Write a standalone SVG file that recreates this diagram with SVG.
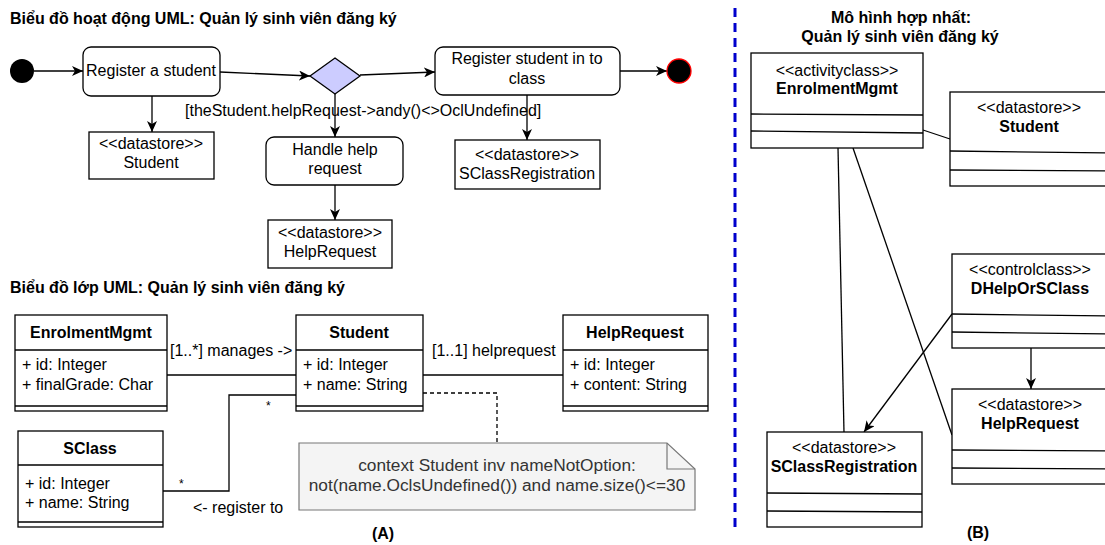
<svg xmlns="http://www.w3.org/2000/svg" width="1105" height="545" viewBox="0 0 1105 545">
  <style>
    text { font-family: "Liberation Sans", Arial, sans-serif; font-size: 16px; fill: #000; }
    .b { font-weight: bold; }
    .c { text-anchor: middle; }
    .box { fill: #fff; stroke: #000; stroke-width: 1.3; }
    .ln { fill: none; stroke: #000; stroke-width: 1.3; }
    .arr { fill: none; stroke: #000; stroke-width: 1.3; marker-end: url(#arrow); }
    .note { fill: #333; font-size: 17.3px; }
  </style>
  <defs>
    <marker id="arrow" markerUnits="userSpaceOnUse" markerWidth="12" markerHeight="10" refX="11" refY="5" orient="auto">
      <path d="M0,0 L11,5 L0,10 L3,5 Z" fill="#000"/>
    </marker>
  </defs>

  <rect width="1105" height="545" fill="#fff"/>

  <!-- Part A: activity diagram -->
  <text class="b" x="10" y="24">Biểu đồ hoạt động UML: Quản lý sinh viên đăng ký</text>

  <g id="connectors-activity">
    <line class="arr" x1="34" y1="71" x2="83" y2="71"/>
    <line class="arr" x1="220" y1="72" x2="310" y2="76"/>
    <line class="arr" x1="360" y1="75" x2="435" y2="72"/>
    <line class="arr" x1="620" y1="71" x2="667" y2="71"/>
    <line class="arr" x1="152" y1="96" x2="152" y2="132"/>
    <line class="arr" x1="335" y1="94" x2="335" y2="137"/>
    <line class="arr" x1="527" y1="95" x2="527" y2="140"/>
    <line class="arr" x1="335" y1="185" x2="335" y2="220"/>
    <text x="185" y="116">[theStudent.helpRequest-&gt;andy()&lt;&gt;OclUndefined]</text>
  </g>

  <g id="start"><circle cx="22" cy="71" r="12" fill="#000"/></g>
  <g id="register-student">
    <rect class="box" x="83" y="47" width="137" height="49" rx="8"/>
    <text class="c" x="151" y="76">Register a student</text>
  </g>
  <g id="decision">
    <polygon points="335,58 360,76 335,94 310,76" fill="#ccccff" stroke="#000" stroke-width="1.3"/>
  </g>
  <g id="register-class">
    <rect class="box" x="435" y="47" width="185" height="48" rx="8"/>
    <text class="c" x="527" y="64">Register student in to</text>
    <text class="c" x="527" y="84">class</text>
  </g>
  <g id="end"><circle cx="679" cy="71" r="12" fill="#000" stroke="#ff0000" stroke-width="1.3"/></g>
  <g id="ds-student">
    <rect class="box" x="89" y="132" width="125" height="47"/>
    <text class="c" x="151" y="149">&lt;&lt;datastore&gt;&gt;</text>
    <text class="c" x="151" y="168">Student</text>
  </g>
  <g id="handle-help">
    <rect class="box" x="266" y="137" width="137" height="48" rx="8"/>
    <text class="c" x="335" y="155">Handle help</text>
    <text class="c" x="335" y="174">request</text>
  </g>
  <g id="ds-sclassregistration">
    <rect class="box" x="455" y="140" width="145" height="49"/>
    <text class="c" x="527" y="160">&lt;&lt;datastore&gt;&gt;</text>
    <text class="c" x="527" y="179">SClassRegistration</text>
  </g>
  <g id="ds-helprequest">
    <rect class="box" x="268" y="220" width="124" height="48"/>
    <text class="c" x="330" y="238">&lt;&lt;datastore&gt;&gt;</text>
    <text class="c" x="330" y="257">HelpRequest</text>
  </g>

  <!-- Part A: class diagram -->
  <text class="b" x="10" y="293">Biểu đồ lớp UML: Quản lý sinh viên đăng ký</text>

  <g id="connectors-class">
    <line class="ln" x1="167" y1="375" x2="296" y2="375"/>
    <text x="170" y="356">[1..*] manages -&gt;</text>
    <line class="ln" x1="423" y1="375" x2="563" y2="375"/>
    <text x="432" y="356">[1..1] helprequest</text>
    <polyline class="ln" points="163,491 229,491 229,395 296,395"/>
    <text x="266" y="410" style="font-size:12px">*</text>
    <text x="179" y="488" style="font-size:12px">*</text>
    <text x="193" y="513">&lt;- register to</text>
    <polyline class="ln" points="423,393 497,393 497,443" stroke-dasharray="4,3"/>
  </g>

  <g id="class-enrolmentmgmt">
    <rect class="box" x="15" y="315" width="152" height="96"/>
    <line class="ln" x1="15" y1="350" x2="167" y2="350"/>
    <line class="ln" x1="15" y1="406" x2="167" y2="406"/>
    <text class="b c" x="91" y="338">EnrolmentMgmt</text>
    <text x="22" y="370">+ id: Integer</text>
    <text x="22" y="390">+ finalGrade: Char</text>
  </g>
  <g id="class-student">
    <rect class="box" x="296" y="315" width="127" height="96"/>
    <line class="ln" x1="296" y1="350" x2="423" y2="350"/>
    <line class="ln" x1="296" y1="406" x2="423" y2="406"/>
    <text class="b c" x="359" y="338">Student</text>
    <text x="303" y="370">+ id: Integer</text>
    <text x="303" y="390">+ name: String</text>
  </g>
  <g id="class-helprequest">
    <rect class="box" x="563" y="315" width="145" height="96"/>
    <line class="ln" x1="563" y1="350" x2="708" y2="350"/>
    <line class="ln" x1="563" y1="406" x2="708" y2="406"/>
    <text class="b c" x="635" y="338">HelpRequest</text>
    <text x="570" y="370">+ id: Integer</text>
    <text x="570" y="390">+ content: String</text>
  </g>
  <g id="class-sclass">
    <rect class="box" x="18" y="431" width="145" height="96"/>
    <line class="ln" x1="18" y1="465" x2="163" y2="465"/>
    <line class="ln" x1="18" y1="522" x2="163" y2="522"/>
    <text class="b c" x="90" y="454">SClass</text>
    <text x="25" y="489">+ id: Integer</text>
    <text x="25" y="508">+ name: String</text>
  </g>
  <g id="note-ocl">
    <path d="M299,443 H667 L695,469 V510 H299 Z" fill="#f4f4f4" stroke="#777" stroke-width="1.2"/>
    <path d="M667,443 V469 H695" fill="none" stroke="#777" stroke-width="1.2"/>
    <text class="c note" x="497" y="471">context Student inv nameNotOption:</text>
    <text class="c note" x="497" y="491">not(name.OclsUndefined()) and name.size()&lt;=30</text>
  </g>
  <text class="b c" x="383" y="539">(A)</text>

  <!-- separator -->
  <line x1="735" y1="8" x2="735" y2="530" stroke="#0000cc" stroke-width="3" stroke-dasharray="9,6"/>

  <!-- Part B: merged model -->
  <text class="b c" x="901" y="23">Mô hình hợp nhất:</text>
  <text class="b c" x="900" y="42">Quản lý sinh viên đăng ký</text>

  <g id="connectors-merged">
    <line class="ln" x1="923" y1="130" x2="950" y2="139"/>
    <line class="ln" x1="838" y1="148" x2="844" y2="432"/>
    <line class="ln" x1="853" y1="148" x2="952" y2="435"/>
    <line class="arr" x1="952" y1="314" x2="864" y2="432"/>
    <line class="arr" x1="1031" y1="348" x2="1031" y2="389"/>
  </g>

  <g id="m-enrolmentmgmt">
    <rect class="box" x="751" y="53" width="172" height="95"/>
    <line class="ln" x1="751" y1="114" x2="923" y2="115"/>
    <line class="ln" x1="751" y1="131" x2="923" y2="133"/>
    <text class="c" x="837" y="76">&lt;&lt;activityclass&gt;&gt;</text>
    <text class="b c" x="837" y="94">EnrolmentMgmt</text>
  </g>
  <g id="m-student">
    <rect class="box" x="950" y="92" width="160" height="94"/>
    <line class="ln" x1="950" y1="151" x2="1110" y2="153"/>
    <line class="ln" x1="950" y1="170" x2="1110" y2="171"/>
    <text class="c" x="1029" y="113">&lt;&lt;datastore&gt;&gt;</text>
    <text class="b c" x="1029" y="132">Student</text>
  </g>
  <g id="m-dhelporsclass">
    <rect class="box" x="952" y="254" width="160" height="94"/>
    <line class="ln" x1="952" y1="314" x2="1112" y2="316"/>
    <line class="ln" x1="952" y1="332" x2="1112" y2="334"/>
    <text class="c" x="1030" y="275">&lt;&lt;controlclass&gt;&gt;</text>
    <text class="b c" x="1030" y="294">DHelpOrSClass</text>
  </g>
  <g id="m-helprequest">
    <rect class="box" x="952" y="389" width="160" height="95"/>
    <line class="ln" x1="952" y1="450" x2="1112" y2="451"/>
    <line class="ln" x1="952" y1="468" x2="1112" y2="469"/>
    <text class="c" x="1030" y="410">&lt;&lt;datastore&gt;&gt;</text>
    <text class="b c" x="1030" y="429">HelpRequest</text>
  </g>
  <g id="m-sclassregistration">
    <rect class="box" x="767" y="432" width="155" height="95"/>
    <line class="ln" x1="767" y1="493" x2="922" y2="494"/>
    <line class="ln" x1="767" y1="511" x2="922" y2="512"/>
    <text class="c" x="844" y="453">&lt;&lt;datastore&gt;&gt;</text>
    <text class="b c" x="844" y="472">SClassRegistration</text>
  </g>
  <text class="b c" x="978" y="538">(B)</text>
</svg>
